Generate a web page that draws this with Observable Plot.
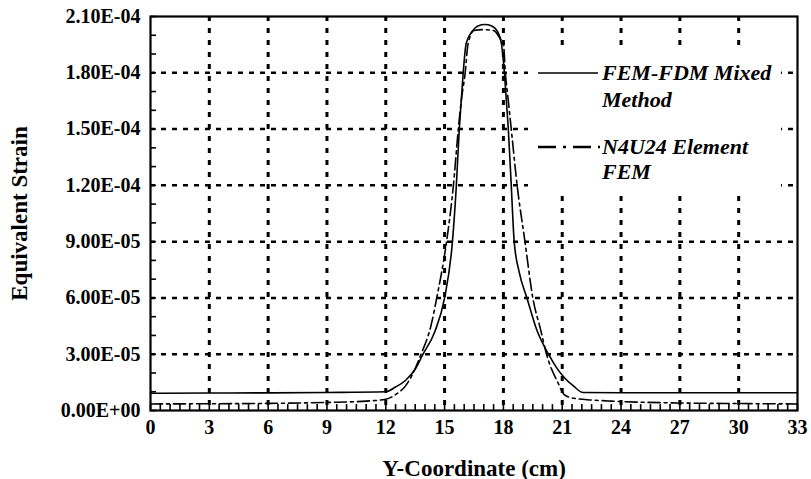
<!DOCTYPE html>
<html><head><meta charset="utf-8">
<script src="https://cdn.jsdelivr.net/npm/d3@7"></script>
<script src="https://cdn.jsdelivr.net/npm/@observablehq/plot@0.6"></script>
<style>
body{margin:0;background:#fff;}
#wrap{position:relative;width:811px;height:479px;overflow:hidden;}
#legend{position:absolute;left:528px;top:45px;width:253px;height:147px;background:#fff;font-family:"Liberation Serif","Times New Roman",serif;font-weight:bold;font-style:italic;font-size:22px;color:#000;}
#legend svg{position:absolute;left:0;top:0;}
.lt{position:absolute;left:74px;white-space:nowrap;}
</style></head>
<body><div id="wrap"></div>
<script>
// ---- data (strain values in units of 1E-06) ----
const fdmX = [0, 3, 6, 9, 12, 12.5, 13, 13.5, 13.9, 14.5, 15.0, 15.4, 15.6, 15.75, 15.85, 15.95, 16.1, 16.4, 16.7, 17.05, 17.4, 17.7, 17.9, 18.05, 18.15, 18.25, 18.4, 18.55, 18.8, 19.2, 19.7, 20.3, 20.7, 21.1, 21.6, 22.05, 24, 27, 30, 33];
const fdmY = [9.2, 9.3, 9.4, 9.6, 10, 12.5, 16, 22, 30, 42, 60, 90, 120, 150, 165, 180, 195.6, 202, 205, 205.7, 205, 202, 195.6, 180, 165, 150, 120, 90, 74, 60, 43, 30, 23, 17.6, 12.8, 9.6, 9.5, 9.5, 9.5, 9.5];
const femX = [0, 3, 6, 9, 11, 12, 12.5, 13, 13.3, 13.8, 14.3, 14.6, 15.1, 15.45, 15.7, 15.85, 16.05, 16.2, 16.5, 17.0, 17.5, 17.85, 18.0, 18.1, 18.25, 18.4, 18.7, 19.1, 19.5, 19.9, 20.2, 20.8, 21.1, 21.6, 22.5, 23.5, 27, 30, 33];
const femY = [3.5, 3.6, 3.8, 4.3, 5, 6, 8.5, 13, 18, 30, 45, 60, 90, 120, 150, 165, 180, 195.6, 202.5, 203, 202.5, 198, 195.6, 180, 165, 150, 120, 90, 60, 43, 30, 14.4, 8.5, 6.5, 5.6, 5, 4, 3.7, 3.5];
const yUnit = 1e-6;
const seriesNames = ["FEM-FDM Mixed Method", "N4U24 Element FEM"];
const xTicks = [0, 3, 6, 9, 12, 15, 18, 21, 24, 27, 30, 33];
const xGrid = [3, 6, 9, 12, 15, 18, 21, 24, 27, 30];
const yTicks = [0, 3e-5, 6e-5, 9e-5, 1.2e-4, 1.5e-4, 1.8e-4, 2.1e-4];
const yTickLabels = ["0.00E+00", "3.00E-05", "6.00E-05", "9.00E-05", "1.20E-04", "1.50E-04", "1.80E-04", "2.10E-04"];
const yGrid = [3e-5, 6e-5, 9e-5, 1.2e-4, 1.5e-4, 1.8e-4];
const xMinor = d3.range(0, 67).map(i => i * 0.5);
const yMinor = d3.range(0, 22).map(i => i * 1e-5);
const xMinorLen = 3.4e-6;   // minor tick length, in y units
const yMinorLen = 0.28;     // minor tick length, in x units

const fdm = fdmX.map((x, i) => ({x, y: fdmY[i] * yUnit}));
const fem = femX.map((x, i) => ({x, y: femY[i] * yUnit}));
const xMinorData = xMinor.map(x => ({x, y1: 0, y2: xMinorLen}));
const yMinorData = yMinor.map(y => ({y, x1: 0, x2: yMinorLen}));

const font = '"Liberation Serif","Times New Roman",serif';

const chart = Plot.plot({
  width: 811, height: 479,
  marginLeft: 150, marginRight: 14, marginTop: 16, marginBottom: 69,
  style: {fontFamily: font, fontWeight: "bold", fontSize: "20px", color: "#000", background: "#fff"},
  x: {domain: [0, 33]},
  y: {domain: [0, 2.1e-4]},
  marks: [
    Plot.ruleX(xGrid, {stroke: "#000", strokeWidth: 3, strokeDasharray: "5,7"}),
    Plot.ruleY(yGrid, {stroke: "#000", strokeWidth: 2.5, strokeDasharray: "5,6"}),
    Plot.line(fdm, {x: "x", y: "y", curve: "monotone-x", stroke: "#000", strokeWidth: 1.6}),
    Plot.line(fem, {x: "x", y: "y", curve: "monotone-x", stroke: "#000", strokeWidth: 1.6, strokeDasharray: "12,4,3,4"}),
    Plot.frame({stroke: "#000", strokeWidth: 2.2}),
    Plot.link(xMinorData, {x1: "x", x2: "x", y1: "y1", y2: "y2", stroke: "#000", strokeWidth: 1.6}),
    Plot.link(yMinorData, {x1: "x1", x2: "x2", y1: "y", y2: "y", stroke: "#000", strokeWidth: 1.6}),
    Plot.axisX({ticks: xTicks, tickSize: 0, tickPadding: 9, tickFormat: d => String(d), label: null}),
    Plot.axisY({ticks: yTicks, tickSize: 0, tickPadding: 10, tickFormat: d => yTickLabels[yTicks.indexOf(d)], label: null}),
    Plot.axisX({ticks: [], tickSize: 0, label: "Y-Coordinate (cm)", labelAnchor: "center", labelOffset: 65, labelArrow: "none", fontSize: 23}),
    Plot.axisY({ticks: [], tickSize: 0, label: "Equivalent Strain", labelAnchor: "center", labelOffset: 140, labelArrow: "none", fontSize: 23})
  ]
});

const wrap = document.getElementById("wrap");
wrap.appendChild(chart);

// legend overlay
const leg = document.createElement("div");
leg.id = "legend";
leg.innerHTML = `
<svg width="253" height="147">
  <line x1="10" y1="28" x2="70" y2="28" stroke="#000" stroke-width="1.6"/>
  <line x1="10" y1="102" x2="72" y2="102" stroke="#000" stroke-width="2.6" stroke-dasharray="18,7,3,7"/>
</svg>
<div class="lt" style="top:14px;line-height:27px">FEM-FDM Mixed<br>Method</div>
<div class="lt" style="top:89px;line-height:25px">N4U24 Element<br>FEM</div>`;
wrap.appendChild(leg);
</script>
</body></html>
